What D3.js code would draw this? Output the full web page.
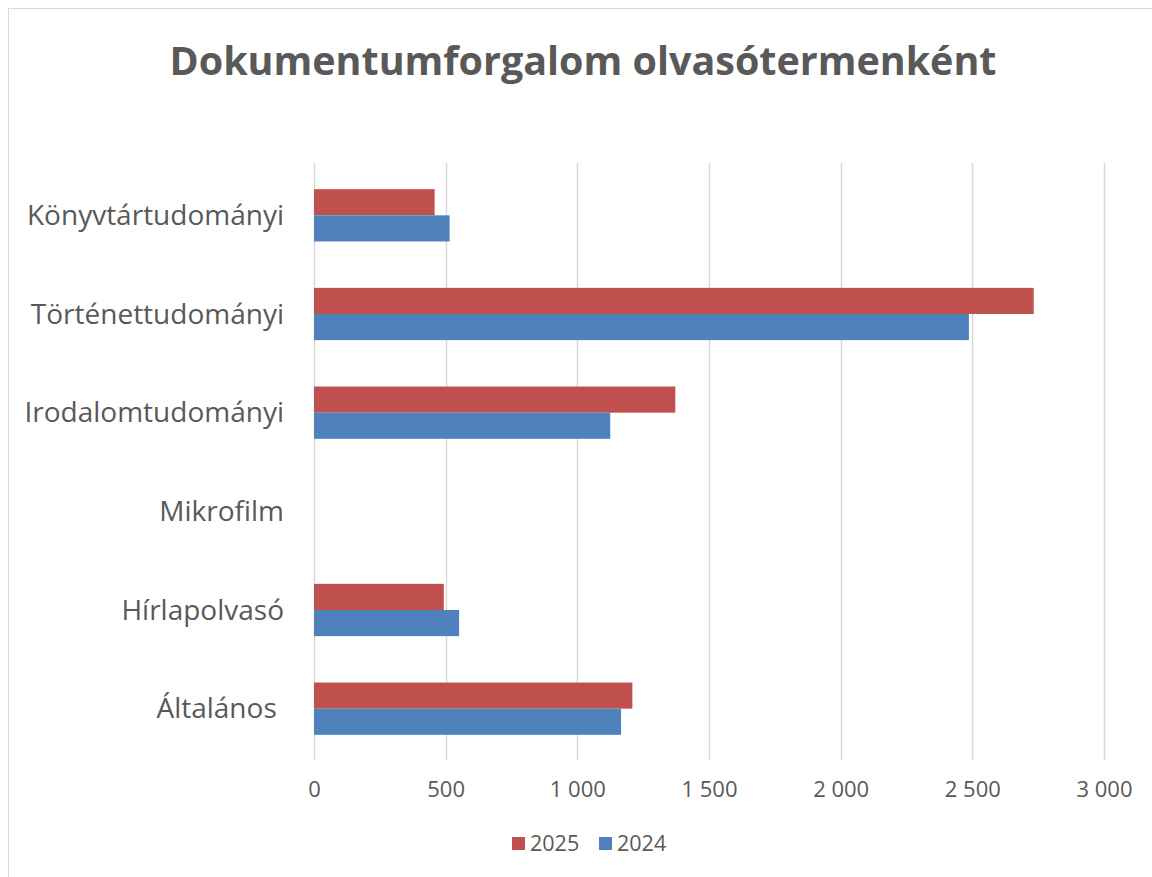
<!DOCTYPE html>
<html>
<head>
<meta charset="utf-8">
<script src="https://cdn.jsdelivr.net/npm/d3@7"></script>
<style>
  html, body { margin: 0; padding: 0; background: #fff; }
  svg { display: block; }
  text { white-space: pre; }
</style>
</head>
<body>
<svg id="chart" width="1152" height="877"></svg>
<script>
const title = "Dokumentumforgalom olvasótermenként";
const categories = ["Könyvtártudományi", "Történettudományi", "Irodalomtudományi", "Mikrofilm", "Hírlapolvasó", "Általános "];
const seriesNames = ["2025", "2024"];
const values2025 = [458, 2733, 1372, 0, 493, 1209];
const values2024 = [515, 2487, 1125, 0, 551, 1166];
const tickValues = [0, 500, 1000, 1500, 2000, 2500, 3000];
const colors = ["#C0504D", "#4F81BD"];

(function () {
const svg = d3.select("#chart");
const font = "'Open Sans', Lato, sans-serif";
const textColor = "#595959";

// frame
svg.append("rect").attr("x", 8.5).attr("y", 8.5).attr("width", 1160).attr("height", 900)
  .attr("fill", "#fff").attr("stroke", "#d9d9d9").attr("stroke-width", 1);

const pLeft = 314, pRight = 1104, pTop = 166, pBottom = 758;

const x = d3.scaleLinear().domain([0, 3000]).range([pLeft, pRight]);
const y = d3.scaleBand().domain(categories).range([pTop, pBottom]).paddingInner(0.47).paddingOuter(0.235);
const ySub = d3.scaleBand().domain(seriesNames).range([0, y.bandwidth()]);

// title
const t = svg.append("text").attr("x", 583).attr("y", 75).attr("text-anchor", "middle")
  .attr("font-family", font).attr("font-weight", "bold").attr("font-size", 40)
  .attr("fill", textColor).text(title);
t.attr("textLength", 827).attr("lengthAdjust", "spacingAndGlyphs");

// grid
svg.append("g").selectAll("line").data(tickValues).join("line")
  .attr("x1", d => Math.round(x(d)) + 0.5).attr("x2", d => Math.round(x(d)) + 0.5)
  .attr("y1", 163).attr("y2", 760)
  .attr("stroke", "#d9d9d9").attr("stroke-width", 1.5);

// bars
const data = categories.map((c, i) => ({cat: c, vals: [values2025[i], values2024[i]]}));
const groups = svg.append("g").selectAll("g").data(data).join("g")
  .attr("transform", d => `translate(0,${y(d.cat)})`);
groups.selectAll("rect").data(d => d.vals.map((v, j) => ({v, s: seriesNames[j], j})))
  .join("rect")
  .attr("x", x(0))
  .attr("y", d => ySub(d.s))
  .attr("width", d => x(d.v) - x(0))
  .attr("height", ySub.bandwidth())
  .attr("fill", d => colors[d.j]);

// x axis labels
const xAxis = d3.axisBottom(x).tickValues(tickValues).tickSize(0).tickPadding(0)
  .tickFormat(d => d3.format(",")(d).replace(/,/g, " "));
const xg = svg.append("g").attr("transform", `translate(0,781)`).call(xAxis);
xg.select(".domain").remove();
xg.selectAll("text").attr("font-family", font).attr("font-size", 22).attr("fill", textColor);

// y axis labels
const yAxis = d3.axisLeft(y).tickSize(0).tickPadding(0);
const yg = svg.append("g").attr("transform", `translate(284,0)`).call(yAxis);
yg.select(".domain").remove();
yg.selectAll("text").attr("font-family", font).attr("font-size", 28).attr("fill", textColor)
  .attr("dy", "0.35em");

// legend
const legend = svg.append("g").attr("transform", "translate(512,843)");
const items = [{n: "2025", c: colors[0], x: 0}, {n: "2024", c: colors[1], x: 87}];
const li = legend.selectAll("g").data(items).join("g").attr("transform", d => `translate(${d.x},0)`);
li.append("rect").attr("x", 0).attr("y", -6).attr("width", 13).attr("height", 13).attr("fill", d => d.c);
li.append("text").attr("x", 18).attr("y", 0).attr("dy", "0.35em")
  .attr("font-family", font).attr("font-size", 21.5).attr("fill", textColor).text(d => d.n);
})();
</script>
</body>
</html>
